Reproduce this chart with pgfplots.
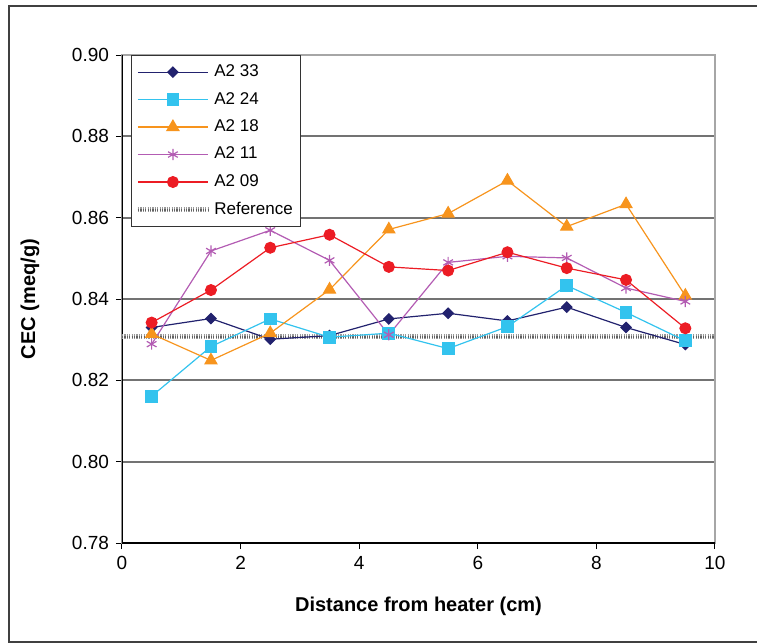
\documentclass[border=0pt]{standalone}
\usepackage{fontspec}
\setmainfont{Liberation Sans}
\usepackage{pgfplots}
\pgfplotsset{compat=1.18}
\definecolor{cnavy}{HTML}{22226E}
\definecolor{ccyan}{HTML}{33C3EE}
\definecolor{corange}{HTML}{F7941D}
\definecolor{cmag}{HTML}{B35CB3}
\definecolor{cred}{HTML}{EC1C24}
\tikzset{refline/.style={preaction={draw,line width=2.4pt,color=black!40},draw=black!62,line width=1.1pt,dash pattern=on 0.6pt off 0.6pt}}
\begin{document}
\begin{tikzpicture}
\useasboundingbox (0,0) rectangle (378.5pt,322pt);
\draw[black!75,line width=0.6pt] (380pt,319pt) -- (4.5pt,319pt) -- (4.5pt,1pt) -- (380pt,1pt);
\begin{axis}[
  at={(61pt,50.5pt)}, anchor=south west,
  scale only axis, width=296.5pt, height=244pt,
  xmin=0, xmax=10, ymin=0.78, ymax=0.90,
  xtick={0,2,...,10}, ytick={0.78,0.80,...,0.90},
  tick align=outside, major tick length=3pt,
  tick style={black, line width=0.5pt},
  xtick pos=bottom, ytick pos=left,
  ymajorgrids, grid style={black!55, line width=0.85pt},
  axis line style={gray!70, line width=0.7pt},
  ticklabel style={font=\fontsize{9.5}{11}\selectfont},
  /pgf/number format/assume math mode=true,
  yticklabel style={/pgf/number format/.cd, fixed, fixed zerofill, precision=2},
  xlabel={\textbf{Distance from heater (cm)}},
  ylabel={\textbf{CEC (meq/g)}},
  label style={font=\fontsize{10}{12}\selectfont},
  xlabel style={at={(axis description cs:0.5,-0.129)}, anchor=center},
  ylabel style={at={(axis description cs:-0.155,0.5)}, anchor=center},
  legend style={at={(axis description cs:0.0152,1)}, anchor=north west,
    draw=black!80, line width=0.5pt, fill=white,
    font=\fontsize{8.5}{10}\selectfont, row sep=2.3pt,
    inner xsep=2pt, inner ysep=2.6pt},
  legend cell align=left,
  legend image code/.code={\draw[mark repeat=2,mark phase=2] plot coordinates {(0pt,0pt) (17.5pt,0pt) (35pt,0pt)};},
  every axis plot/.append style={line width=0.6pt},
]
\draw[black, line width=0.6pt] (rel axis cs:0,1) -- (rel axis cs:0,0) -- (rel axis cs:1,0);
\addplot[refline, forget plot] coordinates {(0,0.8307) (10,0.8307)};
\addplot[color=cnavy, mark=square*, mark size=1.8pt, mark options={rotate=45, solid, fill=cnavy}] coordinates {
(0.5,0.8330) (1.5,0.8352) (2.5,0.8301) (3.5,0.8310) (4.5,0.8351) (5.5,0.8365) (6.5,0.8346) (7.5,0.8380) (8.5,0.8330) (9.5,0.8288)};
\addlegendentry{A2 33}
\addplot[color=ccyan, mark=square*, mark size=2.9pt, mark options={fill=ccyan}] coordinates {
(0.5,0.8161) (1.5,0.8283) (2.5,0.8351) (3.5,0.8306) (4.5,0.8316) (5.5,0.8278) (6.5,0.8332) (7.5,0.8433) (8.5,0.8367) (9.5,0.8297)};
\addlegendentry{A2 24}
\addplot[color=corange, mark=triangle*, mark size=3.4pt, mark options={fill=corange}] coordinates {
(0.5,0.8314) (1.5,0.8249) (2.5,0.8316) (3.5,0.8423) (4.5,0.8571) (5.5,0.8610) (6.5,0.8691) (7.5,0.8578) (8.5,0.8633) (9.5,0.8408)};
\addlegendentry{A2 18}
\addplot[color=cmag, mark=asterisk, mark size=2.8pt] coordinates {
(0.5,0.8289) (1.5,0.8518) (2.5,0.8569) (3.5,0.8495) (4.5,0.8312) (5.5,0.8490) (6.5,0.8505) (7.5,0.8501) (8.5,0.8427) (9.5,0.8394)};
\addlegendentry{A2 11}
\addplot[color=cred, mark=*, mark size=2.7pt, mark options={fill=cred}] coordinates {
(0.5,0.8342) (1.5,0.8422) (2.5,0.8526) (3.5,0.8558) (4.5,0.8479) (5.5,0.8470) (6.5,0.8515) (7.5,0.8476) (8.5,0.8447) (9.5,0.8328)};
\addlegendentry{A2 09}
\addlegendimage{refline}
\addlegendentry{Reference}
\end{axis}
\end{tikzpicture}
\end{document}
